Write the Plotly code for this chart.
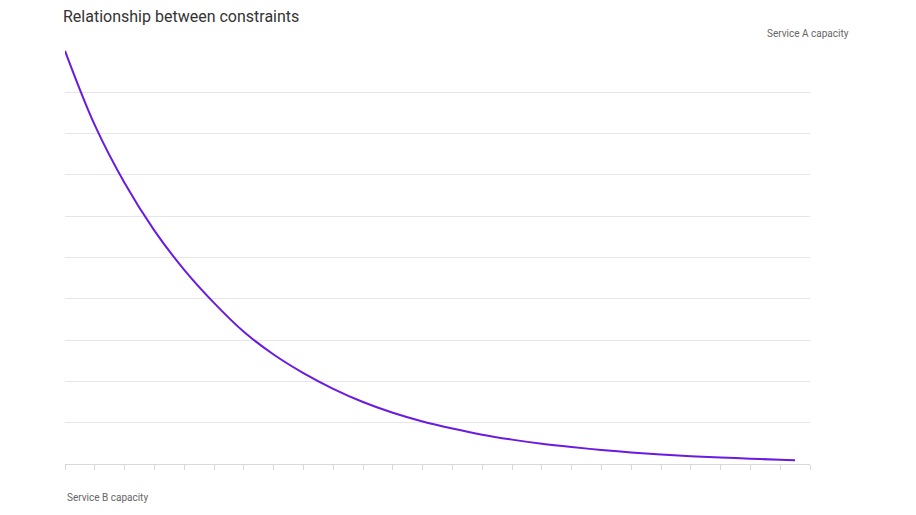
import plotly.graph_objects as go

# Service B capacity (x) vs Service A capacity (y)
service_b = [0, 1, 2, 3, 4, 5, 6, 7, 8, 9, 10, 11, 12, 13, 14, 15, 16, 17, 18, 19, 20, 21, 22, 23, 24, 24.5]
service_a = [10, 8.2, 6.8, 5.65, 4.7, 3.9, 3.2, 2.65, 2.2, 1.82, 1.5, 1.24, 1.03, 0.86, 0.71, 0.59,
             0.49, 0.41, 0.34, 0.28, 0.23, 0.19, 0.16, 0.13, 0.1, 0.09]

fig = go.Figure()
fig.add_trace(go.Scatter(
    x=service_b, y=service_a, mode="lines",
    line=dict(color="#6a1be0", width=2, shape="spline"),
    hoverinfo="skip", showlegend=False, cliponaxis=False,
))

fig.update_xaxes(
    range=[0, 25], dtick=1, showticklabels=False, showgrid=False,
    showline=True, linecolor="#d9d9d9", linewidth=1,
    ticks="outside", ticklen=5, tickcolor="#d9d9d9", zeroline=False,
)
fig.update_yaxes(
    range=[0, 10.02], dtick=1, showticklabels=False,
    showgrid=True, gridcolor="#e6e6e6", zeroline=False,
)

# page body adds 8px margin, so the figure is 900x499
fig.update_layout(
    width=900, height=499,
    margin=dict(l=57, r=98, t=42, b=43),
    plot_bgcolor="white", paper_bgcolor="white",
    font=dict(family="Roboto", color="#666666"),
    title=dict(text="Relationship between constraints", x=55 / 900, xanchor="left",
               y=1 - 8 / 499, yanchor="middle", font=dict(size=16, color="#333333")),
)

fig.add_annotation(text="Service A capacity", xref="paper", yref="paper", x=1.0, y=1.0,
                   yshift=17, xanchor="right", yanchor="middle", showarrow=False,
                   font=dict(size=10, color="#666666"), xshift=41)
fig.add_annotation(text="Service B capacity", xref="paper", yref="paper", x=0, y=0,
                   yshift=-33, xanchor="left", yanchor="middle", showarrow=False,
                   font=dict(size=10, color="#666666"))

fig.write_html("out.html")
